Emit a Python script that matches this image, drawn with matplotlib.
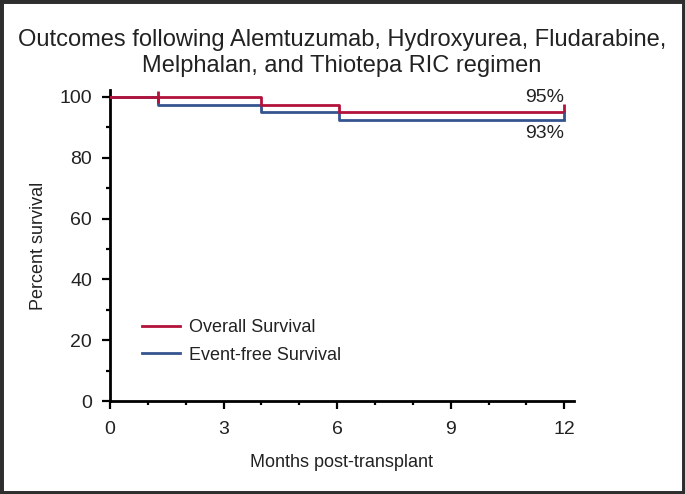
import matplotlib
matplotlib.use("Agg")
import matplotlib.pyplot as plt
from matplotlib.patches import Rectangle
from matplotlib.ticker import MultipleLocator

title = "Outcomes following Alemtuzumab, Hydroxyurea, Fludarabine,\nMelphalan, and Thiotepa RIC regimen"
os_times = [0, 4.0, 6.05, 12]
os_surv = [100, 97.5, 95, 95]
efs_times = [0, 1.26, 4.0, 6.05, 12]
efs_surv = [100, 97.5, 95, 92.5, 92.5]
os_censor_t = [1.26]
os_censor_s = [100]
end_labels = ["95%", "93%"]
x_ticks = [0, 3, 6, 9, 12]
y_ticks = [0, 20, 40, 60, 80, 100]

red = "#b3123b"
blue = "#34548f"
txt = "#222222"

plt.rcParams['font.family'] = ['Liberation Sans', 'DejaVu Sans']
fig = plt.figure(figsize=(6.85, 4.94), dpi=100)
ax = fig.add_axes([0.1606, 0.188, 0.677, 0.630])

ax.step(os_times, os_surv, where='post', color=red, lw=2.0, label='Overall Survival', zorder=3)
ax.step(efs_times, efs_surv, where='post', color=blue, lw=2.0, label='Event-free Survival', zorder=2)
ax.plot(os_censor_t, os_censor_s, ls='none', marker='|', ms=9, mew=2.0, color=red, zorder=4)
ax.plot([os_times[-1]], [os_surv[-1]], ls='none', marker=2, ms=6, mew=2.0, color=red, zorder=4)
ax.plot([efs_times[-1]], [efs_surv[-1]], ls='none', marker=2, ms=6, mew=2.0, color=blue, zorder=4)

ax.text(12, 99.8, end_labels[0], ha='right', va='center', fontsize=14, color=txt)
ax.text(12, 88.0, end_labels[1], ha='right', va='center', fontsize=14, color=txt)

ax.set_xlim(0, 12.25)
ax.set_ylim(0, 102.3)
ax.set_xticks(x_ticks)
ax.set_yticks(y_ticks)
ax.xaxis.set_minor_locator(MultipleLocator(1))
ax.yaxis.set_minor_locator(MultipleLocator(10))
for s in ['top', 'right']:
    ax.spines[s].set_visible(False)
for s in ['left', 'bottom']:
    ax.spines[s].set_linewidth(2.0)
    ax.spines[s].set_color('black')
ax.tick_params(which='major', direction='out', length=6, width=1.6, labelsize=14, labelcolor=txt)
ax.tick_params(which='minor', direction='out', length=3, width=1.6)
ax.tick_params(axis='x', which='major', pad=8.5)
ax.tick_params(axis='y', which='major', pad=7)

ax.set_xlabel("Months post-transplant", fontsize=13, color=txt, labelpad=11)
ax.set_ylabel("Percent survival", fontsize=13, color=txt, labelpad=9)

ax.set_title(title, fontsize=17, color=txt, pad=13, linespacing=1.2)

leg = ax.legend(loc='lower left', bbox_to_anchor=(0.035, 0.068), frameon=False, fontsize=13,
                handlelength=2.1, handletextpad=0.45, labelspacing=0.6)
for t in leg.get_texts():
    t.set_color(txt)

fig.patches.append(Rectangle((0, 0), 1, 1, transform=fig.transFigure, fill=False,
                             edgecolor='#2e2e2e', linewidth=5, zorder=10))

fig.savefig("out.png", dpi=100)
